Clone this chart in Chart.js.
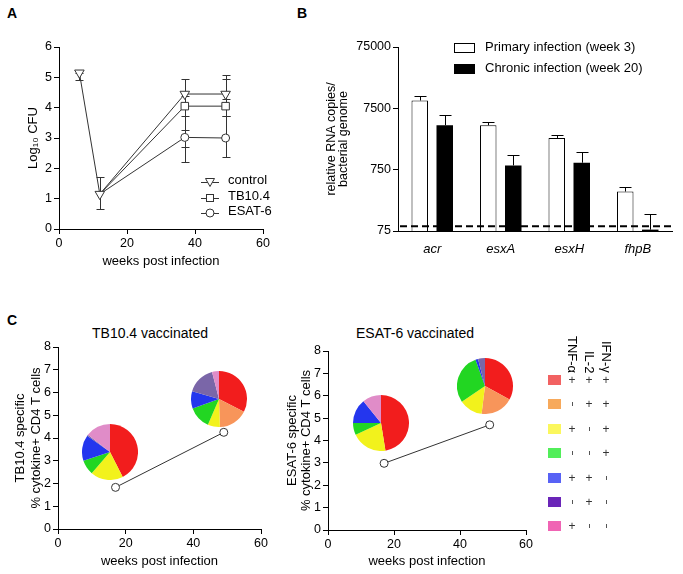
<!DOCTYPE html>
<html>
<head>
<meta charset="utf-8">
<script src="https://cdn.jsdelivr.net/npm/chart.js@4.4.0/dist/chart.umd.min.js"></script>
<style>
  body { margin: 0; width: 683px; height: 574px; position: relative; overflow: hidden; background: #fff;
         font-family: 'Liberation Sans', Arial, sans-serif; color: #000; }
  canvas { position: absolute; }
  .panel { position: absolute; font-weight: bold; font-size: 14px; }
  .abs { position: absolute; white-space: nowrap; }
  .vert { position: absolute; writing-mode: vertical-rl; white-space: nowrap; }
  .ctitle { position: absolute; width: 200px; text-align: center; font-size: 14px; line-height: 16px; }
</style>
</head>
<body>
<div class="panel" style="left:7px;top:5px">A</div>
<div class="panel" style="left:297px;top:5px">B</div>
<div class="panel" style="left:7px;top:312px">C</div>
<div class="ctitle" style="left:50px;top:325px">TB10.4 vaccinated</div>
<div class="ctitle" style="left:315px;top:325px">ESAT-6 vaccinated</div>

<canvas id="chartA" width="300" height="274" style="left:0;top:0"></canvas>
<canvas id="chartB" width="383" height="276" style="left:300px;top:0"></canvas>
<canvas id="chartC1" width="300" height="274" style="left:0;top:300px"></canvas>
<canvas id="chartC2" width="290" height="274" style="left:270px;top:300px"></canvas>

<script>
// ---- panel A: lung CFU ----
const seriesA = ['control', 'TB10.4', 'ESAT-6'];
const weeksControl = [6, 12, 37, 49];
const controlCFU = [5.15, 1.15, 4.45, 4.45];
const controlLow = [4.92, 0.65, 2.21, 4.30];
const controlHigh = [5.15, 1.72, 4.94, 5.08];
const weeksVacc = [12, 37, 49];
const tb104CFU = [1.15, 4.05, 4.05];
const tb104Low = [null, 3.73, 3.73];
const tb104High = [null, 4.37, 4.95];
const esat6CFU = [1.15, 3.02, 3.00];
const esat6Low = [null, 2.70, 2.36];
const esat6High = [null, 3.25, 3.73];

// ---- panel B: RNA copies ----
const genes = ['acr', 'esxA', 'esxH', 'fhpB'];
const seriesB = ['Primary infection (week 3)', 'Chronic infection (week 20)'];
const primaryCopies = [10060, 3975, 2467, 330];
const primaryErr = [12130, 4500, 2750, 394];
const chronicCopies = [3975, 880, 973, 79];
const chronicErr = [5850, 1315, 1455, 140];
const detectionLimit = 90;
const rnaTicks = [75, 750, 7500, 75000];

// ---- panel C: cytokine+ CD4 T cells ----
const weeksC = [17, 49];
const tb104Cells = [1.83, 4.25];
const esat6Cells = [2.98, 4.70];
const cytokines = ['TNF-\u03b1', 'IL-2', 'IFN-\u03b3'];
const profiles = [
  ['+', '+', '+'], ['-', '+', '+'], ['+', '-', '+'], ['-', '-', '+'],
  ['+', '+', '-'], ['-', '+', '-'], ['+', '-', '-']
];
// pie fractions per profile (same order as profiles)
const pieTB17 = [42.5, 0, 18.8, 8.6, 15, 0.6, 14.5];
const pieTB49 = [32.5, 17, 7, 13, 10, 16.5, 4];
const pieES17 = [47.5, 0, 20.6, 7, 14.2, 0, 10.8];
const pieES49 = [33, 19, 13.6, 29, 1.5, 4, 0];

const pieColors = ['#f21d1d', '#f8955a', '#f2f21c', '#22d622', '#2436ee', '#7a66a8', '#e08cc8'];
const keyColors = ['#f26262', '#f7a95b', '#fbf75d', '#52ee5a', '#5862f5', '#6a25b8', '#f064b4'];

const FONT = "'Liberation Sans', Arial, sans-serif";
Chart.defaults.font.family = FONT;
Chart.defaults.color = '#000';
Chart.defaults.animation = false;

function linAxis(min, max, step, size, horiz, title, titlePad, lh) {
  return {
    type: 'linear', min: min, max: max,
    ticks: { stepSize: step, padding: 2, font: { size: 12.5 } },
    grid: { drawOnChartArea: false, tickLength: 5, color: '#000' },
    border: { color: '#000' },
    title: { display: true, text: title, font: { size: 13, lineHeight: lh || 1.2 }, padding: titlePad },
    afterFit: s => { if (horiz) s.height = size; else s.width = size; }
  };
}

// error bars for panel A (drawn under the markers)
const errA = {
  id: 'errA',
  beforeDatasetsDraw(chart) {
    const ctx = chart.ctx, ys = chart.scales.y;
    ctx.save();
    ctx.strokeStyle = '#333';
    ctx.lineWidth = 1;
    chart.data.datasets.forEach((ds, di) => {
      chart.getDatasetMeta(di).data.forEach((pt, i) => {
        if (ds.errLow[i] == null) return;
        const x = Math.round(pt.x) + 0.5;
        const a = Math.round(ys.getPixelForValue(ds.errLow[i])) + 0.5;
        const b = Math.round(ys.getPixelForValue(ds.errHigh[i])) + 0.5;
        ctx.beginPath();
        ctx.moveTo(x, a); ctx.lineTo(x, b);
        ctx.moveTo(x - 4, a); ctx.lineTo(x + 4, a);
        ctx.moveTo(x - 4, b); ctx.lineTo(x + 4, b);
        ctx.stroke();
      });
    });
    ctx.restore();
  }
};

function pts(xs, ys) { return xs.map((x, i) => ({ x: x, y: ys[i] })); }

const chartA = new Chart(document.getElementById('chartA'), {
  type: 'line',
  data: {
    datasets: [
      { label: seriesA[0], data: pts(weeksControl, controlCFU), errLow: controlLow, errHigh: controlHigh,
        pointStyle: 'triangle', rotation: 180, pointRadius: 5.5 },
      { label: seriesA[1], data: pts(weeksVacc, tb104CFU), errLow: tb104Low, errHigh: tb104High,
        pointStyle: 'rect', pointRadius: [0, 5.3, 5.3] },
      { label: seriesA[2], data: pts(weeksVacc, esat6CFU), errLow: esat6Low, errHigh: esat6High,
        pointStyle: 'circle', pointRadius: [0, 4, 4] }
    ].map(d => Object.assign({ borderColor: '#333', borderWidth: 1, backgroundColor: '#fff',
      pointBackgroundColor: '#fff', pointBorderColor: '#333', pointBorderWidth: 1, tension: 0 }, d))
  },
  options: {
    responsive: false,
    layout: { padding: { left: 0, right: 37, top: 47, bottom: 1 } },
    plugins: { legend: { display: false }, tooltip: { enabled: false } },
    scales: {
      x: linAxis(0, 60, 20, 44, true, 'weeks post infection', { top: 0, bottom: 4 }),
      y: linAxis(0, 6, 1, 59, false, 'Log\u2081\u2080 CFU', { top: 26, bottom: 0 })
    }
  },
  plugins: [errA]
});

// ---- panel B ----
const errB = {
  id: 'errB',
  afterDatasetsDraw(chart) {
    const ctx = chart.ctx, ys = chart.scales.y, area = chart.chartArea;
    const errs = [primaryErr, chronicErr];
    ctx.save();
    ctx.strokeStyle = '#000';
    ctx.lineWidth = 1;
    chart.data.datasets.forEach((ds, di) => {
      chart.getDatasetMeta(di).data.forEach((bar, i) => {
        const x = Math.round(bar.x) + 0.5;
        const t = Math.round(ys.getPixelForValue(errs[di][i])) + 0.5;
        ctx.beginPath();
        ctx.moveTo(x, bar.y); ctx.lineTo(x, t);
        ctx.moveTo(x - 6, t); ctx.lineTo(x + 6, t);
        ctx.stroke();
      });
    });
    // detection limit
    const yl = ys.getPixelForValue(detectionLimit);
    ctx.setLineDash([7, 4]);
    ctx.lineWidth = 2;
    ctx.beginPath();
    ctx.moveTo(area.left + 2, yl); ctx.lineTo(area.right, yl);
    ctx.stroke();
    ctx.restore();
  }
};

new Chart(document.getElementById('chartB'), {
  type: 'bar',
  data: {
    labels: genes,
    datasets: [
      { label: seriesB[0], data: primaryCopies, backgroundColor: '#fff', borderColor: '#000', borderWidth: 1 },
      { label: seriesB[1], data: chronicCopies, backgroundColor: '#000', borderColor: '#000', borderWidth: 0 }
    ]
  },
  options: {
    responsive: false,
    categoryPercentage: 0.73,
    barPercentage: 0.66,
    layout: { padding: { left: 0, right: 11, top: 47, bottom: 1 } },
    plugins: { legend: { display: false }, tooltip: { enabled: false } },
    scales: {
      x: {
        ticks: { padding: 3, font: { size: 13, style: 'italic' } },
        grid: { display: false },
        border: { color: '#000' },
        afterFit: s => { s.height = 44; }
      },
      y: {
        type: 'logarithmic', min: 75, max: 75000,
        afterBuildTicks: s => { s.ticks = rnaTicks.map(v => ({ value: v })); },
        ticks: { padding: 2, font: { size: 12.5 }, callback: v => String(v) },
        grid: { drawOnChartArea: false, tickLength: 5, color: '#000' },
        border: { color: '#000' },
        title: { display: true, text: ['relative RNA copies/', 'bacterial genome'],
                 font: { size: 12.5, lineHeight: 0.96 }, padding: { top: 26, bottom: 0 } },
        afterFit: s => { s.width = 98; }
      }
    }
  },
  plugins: [errB]
});

// ---- panel C ----
function cellChart(id, data, yTitle, top, right, lh, yPad, xH) {
  return new Chart(document.getElementById(id), {
    type: 'line',
    data: { datasets: [{ data: pts(weeksC, data), borderColor: '#333', borderWidth: 1,
      pointStyle: 'circle', pointRadius: 4, pointBackgroundColor: '#fff', pointBorderColor: '#333' }] },
    options: {
      responsive: false,
      layout: { padding: { left: 0, right: right, top: top, bottom: 1 } },
      plugins: { legend: { display: false }, tooltip: { enabled: false } },
      scales: {
        x: linAxis(0, 60, 20, xH, true, 'weeks post infection', { top: 0, bottom: 4 }),
        y: linAxis(0, 8, 1, 58, false, yTitle, { top: yPad, bottom: 0 }, lh)
      }
    }
  });
}

const c1 = cellChart('chartC1', tb104Cells,
  ['TB10.4 specific', '% cytokine+ CD4 T cells'], 47, 39, 1.28, 11.7, 44);
const c2 = cellChart('chartC2', esat6Cells,
  ['ESAT-6 specific', '% cytokine+ CD4 T cells'], 51, 34, 1.1, 15, 43);

// pies sit next to each time point
function addPie(chart, left, top, wx, wy, values) {
  const size = 56;
  const cv = document.createElement('canvas');
  cv.width = size; cv.height = size;
  cv.style.left = (left + chart.scales.x.getPixelForValue(wx) - size / 2) + 'px';
  cv.style.top = (top + chart.scales.y.getPixelForValue(wy) - size / 2) + 'px';
  document.body.appendChild(cv);
  new Chart(cv, {
    type: 'pie',
    data: { labels: profiles.map(p => p.join('')), datasets: [{ data: values, backgroundColor: pieColors, borderWidth: 0 }] },
    options: { responsive: false, plugins: { legend: { display: false }, tooltip: { enabled: false } } }
  });
}
addPie(c1, 0, 300, 15.4, 3.38, pieTB17);
addPie(c1, 0, 300, 47.6, 5.71, pieTB49);
addPie(c2, 270, 300, 16.1, 4.78, pieES17);
addPie(c2, 270, 300, 47.6, 6.44, pieES49);

// ---- legends ----
function el(cls, html, css) {
  const d = document.createElement('div');
  d.className = cls; d.innerHTML = html; d.style.cssText = css;
  document.body.appendChild(d);
  return d;
}
const markerSvg = [
  '<polygon points="4.5,2.5 13.5,2.5 9,10.5" fill="#fff" stroke="#333"/>',
  '<rect x="5.5" y="2.5" width="7" height="7" fill="#fff" stroke="#333"/>',
  '<circle cx="9" cy="6" r="4" fill="#fff" stroke="#333"/>'
];
seriesA.forEach((name, i) => {
  const cy = 180 + i * 15.5;
  el('abs', '<svg width="18" height="12"><line x1="0" y1="6.5" x2="18" y2="6.5" stroke="#333"/>' + markerSvg[i] + '</svg>',
     'left:201px;top:' + (cy - 6) + 'px;width:18px;height:12px;');
  el('abs', name, 'left:228px;top:' + (cy - 8) + 'px;font-size:13px;line-height:16px;');
});
seriesB.forEach((name, i) => {
  const cy = 47 + i * 21;
  el('abs', '', 'left:454px;top:' + (cy - 4.5) + 'px;width:19px;height:8px;border:1px solid #000;background:' + (i ? '#000' : '#fff') + ';');
  el('abs', name, 'left:485px;top:' + (cy - 8) + 'px;font-size:13px;line-height:16px;');
});
const colX = [572, 589, 606];
cytokines.forEach((c, j) => {
  el('vert', c, 'left:' + (colX[j] - 7) + 'px;bottom:' + (574 - 373) + 'px;width:14px;font-size:13px;line-height:14px;');
});
profiles.forEach((p, i) => {
  const cy = 380 + i * 24.4;
  el('abs', '', 'left:548px;top:' + (cy - 5) + 'px;width:13px;height:10px;background:' + keyColors[i] + ';');
  p.forEach((s, j) => {
    if (s === '+') el('abs', '+', 'left:' + (colX[j] - 5) + 'px;top:' + (cy - 7) + 'px;width:10px;text-align:center;font-size:12px;line-height:14px;color:#333;');
    else el('abs', '', 'left:' + (colX[j] - 0.5) + 'px;top:' + (cy - 2) + 'px;width:1px;height:4px;background:#555;');
  });
});
</script>
</body>
</html>
